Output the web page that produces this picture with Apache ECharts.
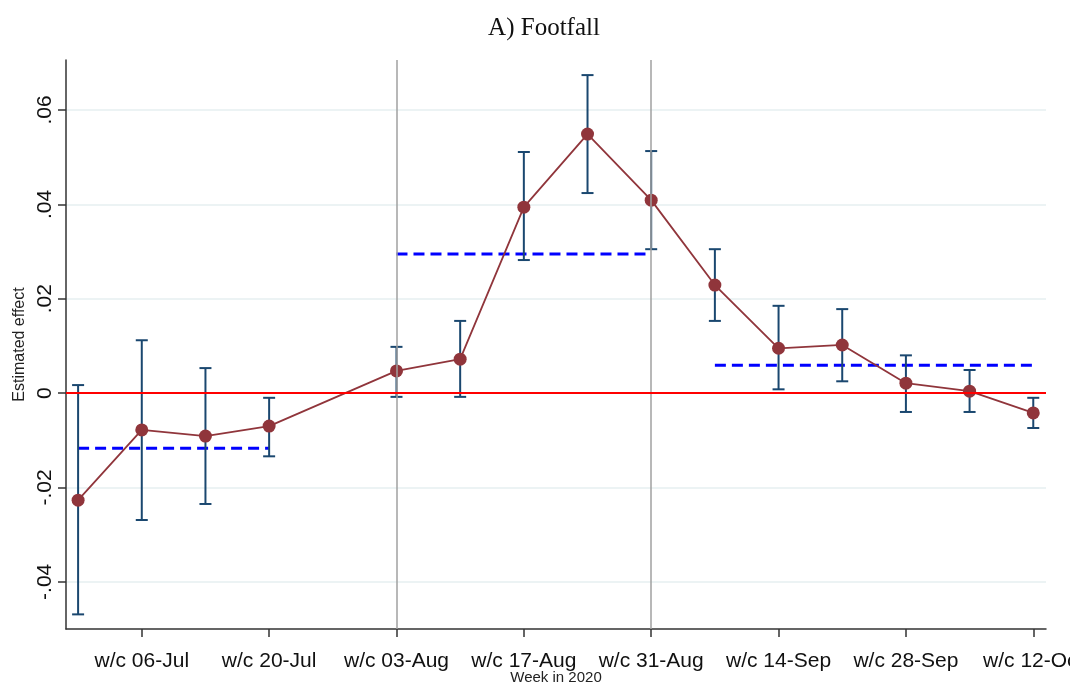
<!DOCTYPE html>
<html>
<head>
<meta charset="utf-8">
<title>A) Footfall</title>
<script src="https://cdn.jsdelivr.net/npm/echarts@6/dist/echarts.min.js"></script>
<style>
  html, body { margin: 0; padding: 0; background: #fff; }
  #chart { width: 1070px; height: 684px; }
</style>
</head>
<body>
<div id="chart"></div>
<script>
  // weeks (w/c dates), index 0 = 29-Jun
  var weekLabels = ['w/c 29-Jun', 'w/c 06-Jul', 'w/c 13-Jul', 'w/c 20-Jul', 'w/c 27-Jul', 'w/c 03-Aug',
    'w/c 10-Aug', 'w/c 17-Aug', 'w/c 24-Aug', 'w/c 31-Aug', 'w/c 07-Sep', 'w/c 14-Sep',
    'w/c 21-Sep', 'w/c 28-Sep', 'w/c 05-Oct', 'w/c 12-Oct'];
  // point estimates (null = week not estimated)
  var coef = [-0.0227, -0.0078, -0.0091, -0.0070, null, 0.0047, 0.0072, 0.0394,
    0.0549, 0.0409, 0.0229, 0.0095, 0.0102, 0.0021, 0.0004, -0.0042];
  var ciLow = [-0.0469, -0.0269, -0.0235, -0.0134, null, -0.0008, -0.0008, 0.0282,
    0.0424, 0.0305, 0.0153, 0.0008, 0.0025, -0.0040, -0.0040, -0.0074];
  var ciHigh = [0.0017, 0.0112, 0.0053, -0.0010, null, 0.0098, 0.0153, 0.0511,
    0.0674, 0.0513, 0.0305, 0.0185, 0.0178, 0.0080, 0.0049, -0.0010];
  // period averages (before / during / after)
  var periodStart = [0, 5, 10];
  var periodEnd = [3, 9, 15];
  var periodMean = [-0.0117, 0.0295, 0.0059];
  // reference lines and ticks
  var eventWeeks = [5, 9];
  var xTickWeeks = [1, 3, 5, 7, 9, 11, 13, 15];
  var yTicks = [-0.04, -0.02, 0, 0.02, 0.04, 0.06];

  var maroon = '#90353b';
  var navy = '#1a476f';

  var pointData = [];
  var barData = [];
  for (var i = 0; i < coef.length; i++) {
    if (coef[i] === null) continue;
    pointData.push([i, coef[i]]);
    barData.push([i, ciLow[i], ciHigh[i]]);
  }

  var periodSeries = periodMean.map(function (m, k) {
    return {
      type: 'line',
      data: [[periodStart[k], m], [periodEnd[k], m]],
      symbol: 'none',
      silent: true,
      z: 2,
      lineStyle: { color: '#0000ff', width: 3, type: [11, 6] }
    };
  });

  function fmtY(v) {
    if (Math.abs(v) < 1e-9) return '0';
    return v.toFixed(2).replace('0.', '.');
  }

  var myChart = echarts.init(document.getElementById('chart'));
  var option = {
    animation: false,
    backgroundColor: '#fff',
    title: {
      text: 'A) Footfall',
      left: 539,
      top: 11,
      textAlign: 'center',
      textStyle: { fontFamily: 'Liberation Serif', fontWeight: 'normal', fontSize: 25, color: '#111' }
    },
    grid: { left: 66, right: 24, top: 60, bottom: 55, outerBoundsMode: 'none', containLabel: false },
    xAxis: {
      type: 'value',
      min: -0.19,
      max: 15.2,
      name: 'Week in 2020',
      nameLocation: 'middle',
      nameGap: 41,
      nameMoveOverlap: false,
      nameTextStyle: { fontFamily: 'Liberation Sans', fontSize: 15, color: '#222' },
      axisLine: { show: true, onZero: false, lineStyle: { color: '#333', width: 1.5 } },
      axisTick: { show: true, customValues: xTickWeeks, length: 8, lineStyle: { color: '#333', width: 1.5 } },
      axisLabel: {
        customValues: xTickWeeks,
        margin: 22,
        fontFamily: 'Liberation Sans',
        fontSize: 21,
        color: '#111',
        hideOverlap: false,
        formatter: function (v) { return weekLabels[Math.round(v)]; }
      },
      splitLine: { show: false }
    },
    yAxis: {
      type: 'value',
      min: -0.05,
      max: 0.0706,
      name: 'Estimated effect',
      nameLocation: 'middle',
      nameGap: 33,
      nameRotate: 90,
      nameTextStyle: { fontFamily: 'Liberation Sans', fontSize: 16, color: '#222' },
      axisLine: { show: true, onZero: false, lineStyle: { color: '#333', width: 1.5 } },
      axisTick: { show: true, customValues: yTicks, length: 8, lineStyle: { color: '#333', width: 1.5 } },
      axisLabel: {
        customValues: yTicks,
        rotate: 90,
        margin: 10,
        fontFamily: 'Liberation Sans',
        fontSize: 21,
        color: '#111',
        formatter: fmtY
      },
      splitLine: { show: true, lineStyle: { color: '#e6eff1', width: 1.5 } }
    },
    series: [
      {
        type: 'line',
        data: [],
        silent: true,
        markLine: {
          silent: true,
          symbol: 'none',
          label: { show: false },
          data: eventWeeks.map(function (w) {
            return { xAxis: w, lineStyle: { color: '#a0a0a0', width: 1.5, type: 'solid' } };
          }).concat([{ yAxis: 0, lineStyle: { color: '#ff0000', width: 2, type: 'solid' } }])
        }
      }
    ].concat(periodSeries).concat([
      {
        type: 'custom',
        data: barData,
        z: 3,
        renderItem: function (params, api) {
          var x = api.value(0);
          var lo = api.coord([x, api.value(1)]);
          var hi = api.coord([x, api.value(2)]);
          var cap = 6;
          var st = { stroke: navy, lineWidth: 2 };
          return {
            type: 'group',
            children: [
              { type: 'line', shape: { x1: lo[0], y1: lo[1], x2: hi[0], y2: hi[1] }, style: st },
              { type: 'line', shape: { x1: lo[0] - cap, y1: lo[1], x2: lo[0] + cap, y2: lo[1] }, style: st },
              { type: 'line', shape: { x1: hi[0] - cap, y1: hi[1], x2: hi[0] + cap, y2: hi[1] }, style: st }
            ]
          };
        }
      },
      {
        type: 'line',
        data: pointData,
        z: 4,
        symbol: 'circle',
        symbolSize: 13,
        itemStyle: { color: maroon },
        lineStyle: { color: maroon, width: 1.8 }
      }
    ])
  };
  myChart.setOption(option);
</script>
</body>
</html>
